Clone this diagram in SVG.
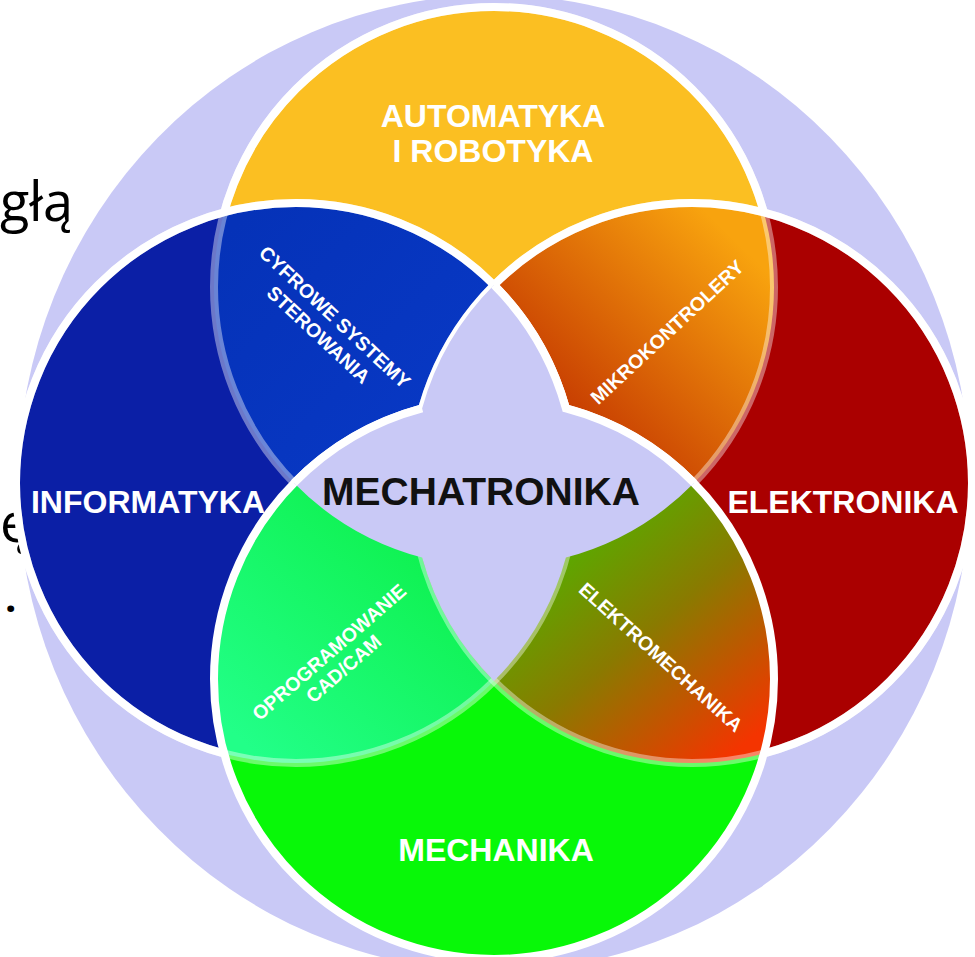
<svg xmlns="http://www.w3.org/2000/svg" width="975" height="957" viewBox="0 0 975 957">
<defs>
<style>
.big{font-family:"Liberation Sans",Arial,sans-serif;font-weight:bold;font-size:32px;fill:#fff;text-anchor:middle}
.sm{font-family:"Liberation Sans",Arial,sans-serif;font-weight:bold;font-size:19.5px;fill:#fff;text-anchor:middle}
.slide{font-family:"Open Sans","Noto Sans",sans-serif;font-size:54px;fill:#000}
.ws{fill:none;stroke:#fff;stroke-width:8}
.wt{fill:none;stroke:#fff;stroke-width:8;stroke-opacity:.4}
</style>
<clipPath id="cT"><circle cx="494" cy="287" r="280"/></clipPath>
<clipPath id="cL"><circle cx="296" cy="483" r="280"/></clipPath>
<clipPath id="cR"><circle cx="692" cy="483" r="280"/></clipPath>
<mask id="mT" maskUnits="userSpaceOnUse" x="0" y="0" width="975" height="957">
<rect width="975" height="957" fill="#fff"/>
<circle cx="296" cy="483" r="280" fill="#000"/><circle cx="692" cy="483" r="280" fill="#000"/><circle cx="494" cy="679" r="280" fill="#000"/>
</mask>
<mask id="mB" maskUnits="userSpaceOnUse" x="0" y="0" width="975" height="957">
<rect width="975" height="957" fill="#fff"/>
<circle cx="494" cy="679" r="280" fill="#000"/>
</mask>
<linearGradient id="gCy" gradientUnits="userSpaceOnUse" x1="230" y1="230" x2="440" y2="420"><stop offset="0" stop-color="#0532b8"/><stop offset="1" stop-color="#0838c4"/></linearGradient>
<linearGradient id="gMi" gradientUnits="userSpaceOnUse" x1="560" y1="440" x2="745" y2="250"><stop offset="0" stop-color="#c23200"/><stop offset="1" stop-color="#f8a30e"/></linearGradient>
<linearGradient id="gOp" gradientUnits="userSpaceOnUse" x1="240" y1="740" x2="440" y2="520"><stop offset="0" stop-color="#22ff88"/><stop offset="1" stop-color="#0df04a"/></linearGradient>
<linearGradient id="gEl" gradientUnits="userSpaceOnUse" x1="560" y1="510" x2="750" y2="740"><stop offset="0" stop-color="#4cb800"/><stop offset="0.5" stop-color="#8a7a00"/><stop offset="1" stop-color="#f43400"/></linearGradient>
</defs>
<rect width="975" height="957" fill="#fff"/>
<g id="background"><ellipse cx="494" cy="483" rx="476" ry="488" fill="#c9c9f6"/></g>
<g id="slide-text">
<text class="slide" x="0" y="221">głą</text>
<text class="slide" x="0" y="542">ę</text>
<text class="slide" x="5" y="612" style="font-size:40px;font-weight:bold">.</text>
</g>
<g id="circles">
<circle id="automatyka" cx="494" cy="287" r="280" fill="#fbbf22"/>
<circle id="informatyka" cx="296" cy="483" r="280" fill="#0b1fa6"/>
<circle id="elektronika" cx="692" cy="483" r="280" fill="#aa0000"/>
<circle id="mechanika" cx="494" cy="679" r="280" fill="#08f808"/>
</g>
<g id="overlaps">
<circle id="cyfrowe" cx="296" cy="483" r="280" fill="url(#gCy)" clip-path="url(#cT)"/>
<circle id="mikrokontrolery" cx="692" cy="483" r="280" fill="url(#gMi)" clip-path="url(#cT)"/>
<circle id="oprogramowanie" cx="494" cy="679" r="280" fill="url(#gOp)" clip-path="url(#cL)"/>
<circle id="elektromechanika" cx="494" cy="679" r="280" fill="url(#gEl)" clip-path="url(#cR)"/>
</g>
<g id="connectors">
<circle class="wt" cx="494" cy="287" r="280" mask="url(#mB)"/>
<circle class="wt" cx="296" cy="483" r="280"/>
<circle class="wt" cx="692" cy="483" r="280"/>
<circle class="ws" cx="494" cy="287" r="280" mask="url(#mT)"/>
<circle class="ws" cx="296" cy="483" r="280" mask="url(#mB)"/>
<circle class="ws" cx="692" cy="483" r="280" mask="url(#mB)"/>
<circle class="ws" cx="494" cy="679" r="280"/>
</g>
<g id="mechatronika">
<path d="M494,285 A280,280 0 0 1 565.9,408.4 A280,280 0 0 1 694,483 A280,280 0 0 1 565.9,557.6 A280,280 0 0 1 494,681 A280,280 0 0 1 422.1,557.6 A280,280 0 0 1 294,483 A280,280 0 0 1 422.1,408.4 A280,280 0 0 1 494,285 Z" fill="#c9c9f6"/>
<path class="ws" d="M294,483 A280,280 0 0 1 422.1,408.4"/>
<path class="ws" d="M494,285 A280,280 0 0 1 565.9,408.4 A280,280 0 0 1 694,483"/>
<text x="481" y="505" style="font-family:'Liberation Sans',Arial,sans-serif;font-weight:bold;font-size:39px;fill:#111;text-anchor:middle">MECHATRONIKA</text>
</g>
<g id="labels">
<text class="big" x="493" y="127">AUTOMATYKA</text>
<text class="big" x="493" y="162">I ROBOTYKA</text>
<text class="big" x="148" y="513">INFORMATYKA</text>
<text class="big" x="843" y="513">ELEKTRONIKA</text>
<text class="big" x="496" y="861">MECHANIKA</text>
<g transform="translate(335,317) rotate(43)"><text class="sm" y="7">CYFROWE SYSTEMY</text><text class="sm" y="31">STEROWANIA</text></g>
<g transform="translate(667,332) rotate(-43)"><text class="sm" y="7">MIKROKONTROLERY</text></g>
<g transform="translate(329,652) rotate(-41)"><text class="sm" y="7">OPROGRAMOWANIE</text><text class="sm" y="29">CAD/CAM</text></g>
<g transform="translate(661,657) rotate(42)"><text class="sm" y="7">ELEKTROMECHANIKA</text></g>
</g>
</svg>
